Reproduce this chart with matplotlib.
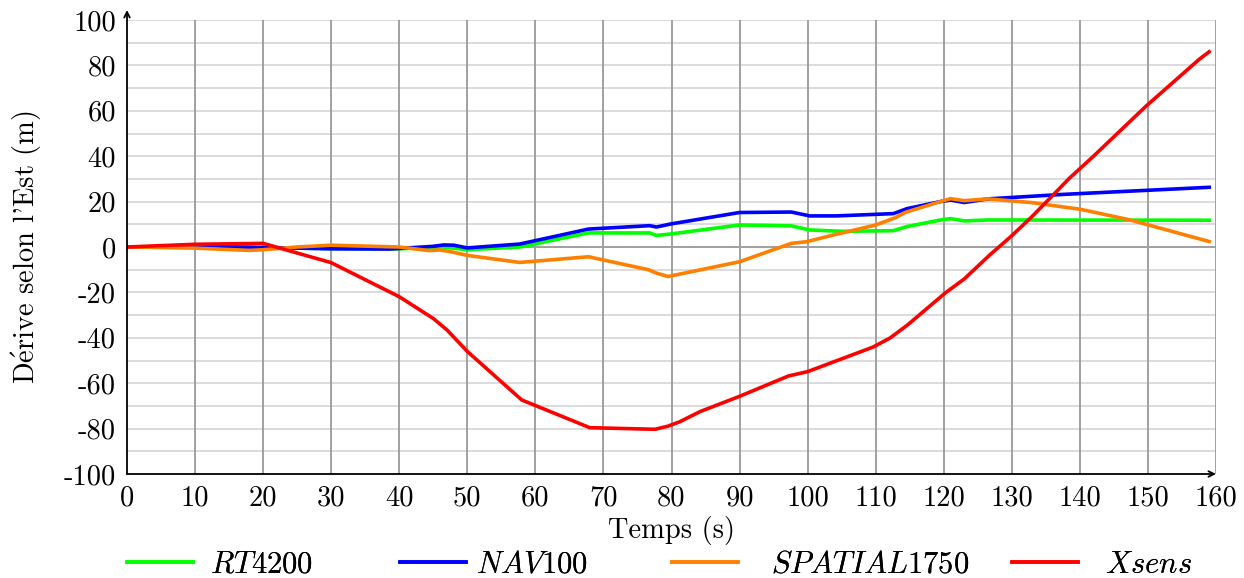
import matplotlib
matplotlib.use("Agg")
import matplotlib.pyplot as plt

plt.rcParams["font.family"] = "serif"
plt.rcParams["font.serif"] = ["cmr10"]
plt.rcParams["mathtext.fontset"] = "cm"
plt.rcParams["axes.unicode_minus"] = False

# RT4200 (vert)
t_rt = [0, 10, 20, 30, 40, 45, 46.5, 50, 57.7, 67.8, 76.8, 77.8, 79.8, 90, 97.6,
        100.3, 105.2, 112.6, 114.6, 119.5, 121, 123, 126.5, 159]
v_rt = [0, 0, -0.3, -0.7, -0.8, -0.2, 0, -1.2, 0, 6.2, 6.2, 5.1, 5.7, 9.7, 9.3,
        7.5, 6.9, 7.2, 9, 11.9, 12.5, 11.5, 11.9, 11.8]

# NAV100 (bleu)
t_nav = [0, 10, 20, 30, 38.6, 45, 46.5, 48, 50, 57.7, 67.8, 76.8, 77.8, 79.8, 90,
         97.6, 100.3, 104.2, 112.6, 114.6, 119.5, 121, 123, 126.5, 137.7, 159]
v_nav = [0, 0.3, -0.2, -0.8, -0.9, 0.3, 0.9, 0.8, -0.4, 1.3, 7.9, 9.4, 8.8, 10.1, 15.2,
         15.4, 13.7, 13.7, 14.7, 16.9, 20, 20.7, 19.6, 21.2, 23.2, 26.3]

# SPATIAL1750 (orange)
t_sp = [0, 10, 18, 20, 25, 30, 40, 44.4, 45.9, 47.3, 50, 57.7, 67.8, 76.6, 77.8, 79.5,
        90, 97.6, 99.8, 104.2, 110, 112.9, 114.4, 119.5, 121, 123, 126.5, 132.8,
        140.1, 147.4, 159]
v_sp = [0, -0.5, -1.5, -1.2, 0, 0.8, 0, -1.6, -1.3, -1.9, -3.7, -6.8, -4.3, -10, -11.5, -13,
        -6.5, 1.6, 2.3, 5.6, 9.7, 12.9, 15.3, 20, 21.3, 20.4, 21.2, 19.6,
        16.6, 11.9, 2.4]

# Xsens (rouge)
t_xs = [0, 10, 20, 30, 40, 45, 47, 50, 58, 68, 77.6, 79.5, 81.2, 84.2, 89.9, 97.2, 100,
        104, 109.6, 112.1, 114.7, 120.2, 123, 126.8, 129.9, 133, 138.5, 142, 149.7,
        157.5, 159]
v_xs = [0, 1.2, 1.6, -6.9, -21.9, -31.5, -36.5, -46, -67.4, -79.6, -80.3, -78.9, -77, -72.5,
        -65.9, -56.8, -54.9, -50.4, -44.1, -40.1, -34.3, -20.3, -14.1, -3.4, 4.7, 13.5,
        30.4, 40, 62, 82.6, 86]

fs = 20.5
W, H = 1244, 578
fig = plt.figure(figsize=(W / 100, H / 100), dpi=100)
ax = fig.add_axes([127 / W, 1 - 474 / H, (1216 - 127) / W, (474 - 20) / H])

ax.set_xlim(0, 160)
ax.set_ylim(-100, 100)
ax.set_xticks(range(0, 161, 10))
ax.set_yticks(range(-100, 101, 20))

# grille
for x in range(10, 161, 10):
    ax.axvline(x, color="#a0a0a0", lw=1.4, zorder=1)
for y in range(-90, 101, 10):
    ax.axhline(y, color="#dcdcdc", lw=1.4, zorder=0.5)
ax.axhline(0, color="#a0a0a0", lw=1.4, zorder=1)

lw = 2.6
lines = [
    ax.plot(t_rt, v_rt, color="#00ff00", lw=lw, zorder=3)[0],
    ax.plot(t_nav, v_nav, color="#0000ff", lw=lw, zorder=3)[0],
    ax.plot(t_sp, v_sp, color="#ff8000", lw=lw, zorder=3)[0],
    ax.plot(t_xs, v_xs, color="#ff0000", lw=lw, zorder=3)[0],
]
labels = [r"$RT4200$", r"$NAV100$", r"$SPATIAL1750$", r"$Xsens$"]

for s in ax.spines.values():
    s.set_visible(False)
ax.annotate("", xy=(1.0, 0), xytext=(0, 0), xycoords="axes fraction",
            arrowprops=dict(arrowstyle="->", color="black", lw=1.3, shrinkA=0, shrinkB=0))
ax.annotate("", xy=(0, 1.022), xytext=(0, 0), xycoords="axes fraction",
            arrowprops=dict(arrowstyle="->", color="black", lw=1.3, shrinkA=0, shrinkB=0))

ax.tick_params(which="both", length=0, labelsize=fs, pad=8)
ax.set_xlabel("Temps (s)", fontsize=fs, labelpad=3)
ax.set_ylabel(r"D$\acute{\rm e}$rive selon l'Est (m)", fontsize=fs, labelpad=14)

# légende sous le graphique, une entrée par colonne
leg_fs = 22
leg_x = [127, 400, 672, 1012]
leg_pad = [0.58, 0.35, 1.1, 0.88]
for line, lab, x0, pad in zip(lines, labels, leg_x, leg_pad):
    leg = fig.legend([line], [lab], loc="center left", bbox_to_anchor=(x0 / W, 1 - 565 / H),
                     frameon=False, fontsize=leg_fs, handlelength=2.15, handletextpad=pad,
                     borderpad=0, borderaxespad=0)
    fig.add_artist(leg)

fig.savefig("out.png", dpi=100)
